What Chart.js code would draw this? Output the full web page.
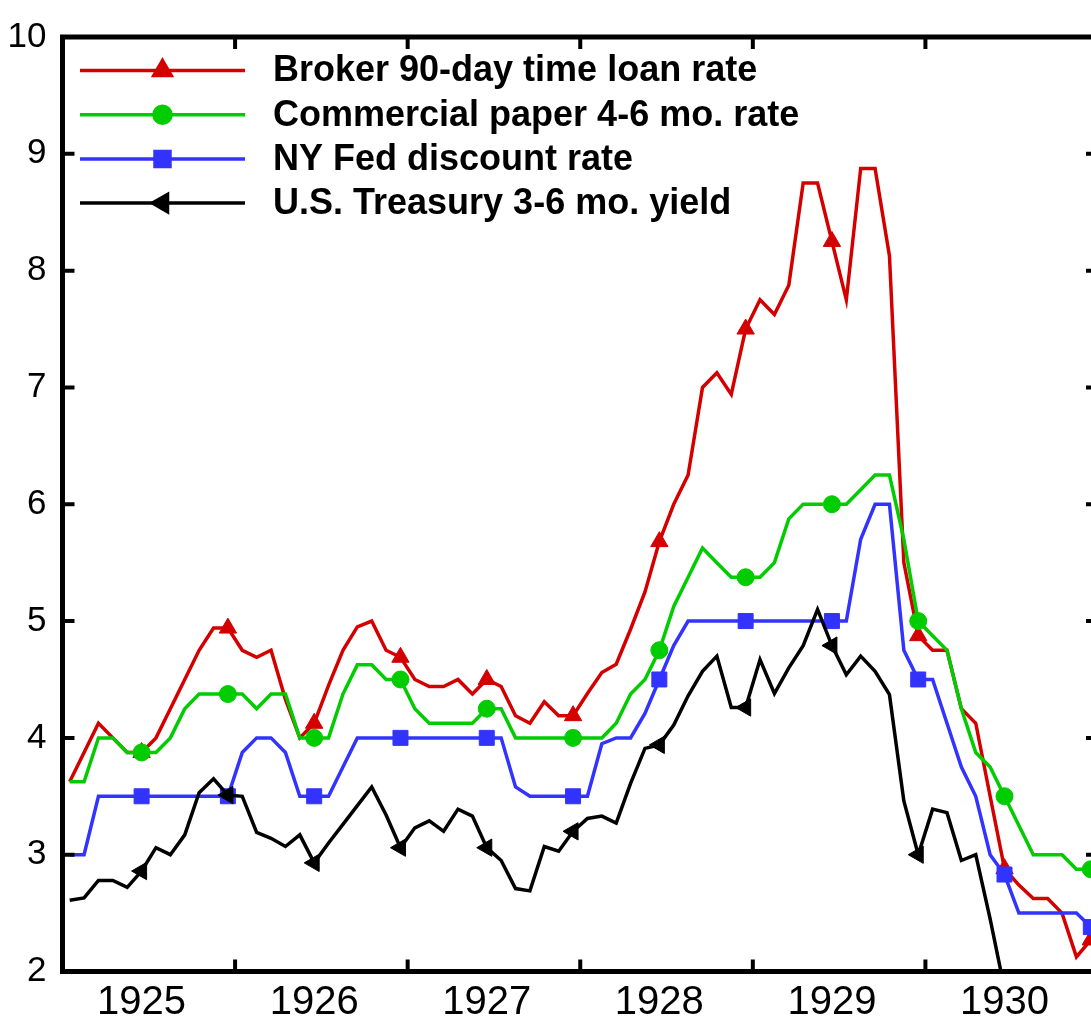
<!DOCTYPE html>
<html>
<head>
<meta charset="utf-8">
<script src="https://cdn.jsdelivr.net/npm/chart.js@4.4.1/dist/chart.umd.min.js"></script>
<style>
  html, body { margin: 0; padding: 0; background: #fff; overflow: hidden; }
  #wrap { width: 1091px; height: 1019px; overflow: hidden; }
  canvas { display: block; }
</style>
</head>
<body>
<div id="wrap"><canvas id="chart" width="1110" height="1019"></canvas></div>
<script>
// monthly data, Jan 1925 - Dec 1930
const years = [1925, 1926, 1927, 1928, 1929, 1930];
const monthNames = ["Jan", "Feb", "Mar", "Apr", "May", "Jun", "Jul", "Aug", "Sep", "Oct", "Nov", "Dec"];
const months = years.flatMap(y => monthNames.map(m => m + " " + y));

const yTicks = [2, 3, 4, 5, 6, 7, 8, 9, 10];

const seriesNames = [
  "Broker 90-day time loan rate",
  "Commercial paper 4-6 mo. rate",
  "NY Fed discount rate",
  "U.S. Treasury 3-6 mo. yield"
];

const brokerRate = [
  3.625, 3.875, 4.125, 4.0, 3.875, 3.875, 4.0, 4.25, 4.5, 4.75, 4.94, 4.94,
  4.75, 4.69, 4.75, 4.33, 4.0, 4.125, 4.45, 4.75, 4.95, 5.0, 4.75, 4.69,
  4.5, 4.44, 4.44, 4.5, 4.375, 4.5, 4.44, 4.19, 4.125, 4.31, 4.19, 4.19,
  4.38, 4.56, 4.63, 4.93, 5.25, 5.68, 6.0, 6.25, 7.0, 7.125, 6.94, 7.5,
  7.75, 7.625, 7.875, 8.75, 8.75, 8.25, 7.75, 8.875, 8.875, 8.125, 5.5, 4.875,
  4.75, 4.75, 4.25, 4.125, 3.5, 2.88, 2.74, 2.625, 2.625, 2.5, 2.125, 2.27
];

const paperRate = [
  3.625, 3.625, 4.0, 4.0, 3.875, 3.875, 3.875, 4.0, 4.25, 4.375, 4.375, 4.375,
  4.375, 4.25, 4.375, 4.375, 4.0, 4.0, 4.0, 4.375, 4.625, 4.625, 4.5, 4.5,
  4.25, 4.125, 4.125, 4.125, 4.125, 4.25, 4.25, 4.0, 4.0, 4.0, 4.0, 4.0,
  4.0, 4.0, 4.125, 4.375, 4.5, 4.75, 5.125, 5.375, 5.625, 5.5, 5.375, 5.375,
  5.375, 5.5, 5.875, 6.0, 6.0, 6.0, 6.0, 6.125, 6.25, 6.25, 5.7, 5.0,
  4.875, 4.75, 4.25, 3.875, 3.75, 3.5, 3.25, 3.0, 3.0, 3.0, 2.875, 2.875
];

const discountRate = [
  3.0, 3.0, 3.5, 3.5, 3.5, 3.5, 3.5, 3.5, 3.5, 3.5, 3.5, 3.5,
  3.875, 4.0, 4.0, 3.875, 3.5, 3.5, 3.5, 3.75, 4.0, 4.0, 4.0, 4.0,
  4.0, 4.0, 4.0, 4.0, 4.0, 4.0, 4.0, 3.58, 3.5, 3.5, 3.5, 3.5,
  3.5, 3.95, 4.0, 4.0, 4.21, 4.5, 4.79, 5.0, 5.0, 5.0, 5.0, 5.0,
  5.0, 5.0, 5.0, 5.0, 5.0, 5.0, 5.0, 5.7, 6.0, 6.0, 4.75, 4.5,
  4.5, 4.125, 3.75, 3.5, 3.0, 2.83, 2.5, 2.5, 2.5, 2.5, 2.5, 2.38
];

const treasuryYield = [
  2.61, 2.63, 2.78, 2.78, 2.72, 2.86, 3.06, 3.0, 3.17, 3.53, 3.65, 3.51,
  3.5, 3.19, 3.14, 3.07, 3.17, 2.93, 3.1, 3.26, 3.42, 3.58, 3.34, 3.06,
  3.23, 3.29, 3.2, 3.39, 3.33, 3.06, 2.95, 2.71, 2.69, 3.07, 3.03, 3.2,
  3.31, 3.33, 3.27, 3.61, 3.91, 3.94, 4.11, 4.36, 4.57, 4.7, 4.26, 4.26,
  4.67, 4.38, 4.6, 4.79, 5.1, 4.79, 4.54, 4.7, 4.57, 4.37, 3.46, 3.0,
  3.39, 3.36, 2.95, 3.0, 2.45, 1.85, 1.6, 1.5, 1.5, 1.45, 1.35, 1.25
];

const markerEvery = (r) => (ctx) => (ctx.dataIndex % 6 === 5 ? r : 0);

function series(label, data, color, style, radius, rotation, order) {
  return {
    label, data, order,
    borderColor: color,
    backgroundColor: color,
    borderWidth: 3.5,
    tension: 0,
    clip: 0,
    pointStyle: style,
    rotation: rotation,
    legendRadius: radius,
    pointRadius: markerEvery(radius),
    pointHoverRadius: 0,
    pointBackgroundColor: color,
    pointBorderColor: color,
    pointBorderWidth: 1
  };
}

// frame with inward tick marks on all four sides
const framePlugin = {
  id: "frame",
  afterDraw(chart) {
    const { ctx, chartArea: a, scales: { x, y } } = chart;
    const tick = 12;
    ctx.save();
    ctx.strokeStyle = "#000";
    ctx.lineWidth = 4;
    ctx.beginPath();
    yTicks.forEach(v => {
      const py = y.getPixelForValue(v);
      ctx.moveTo(a.left, py); ctx.lineTo(a.left + tick, py);
      ctx.moveTo(a.right - tick, py); ctx.lineTo(a.right, py);
    });
    for (let k = 1; k < years.length; k++) {
      const px = (x.getPixelForValue(12 * k - 1) + x.getPixelForValue(12 * k)) / 2;
      ctx.moveTo(px, a.top); ctx.lineTo(px, a.top + tick);
      ctx.moveTo(px, a.bottom); ctx.lineTo(px, a.bottom - tick);
    }
    ctx.stroke();
    ctx.lineWidth = 5;
    ctx.strokeRect(a.left, a.top, a.right - a.left, a.bottom - a.top);
    ctx.restore();
  }
};

// legend: line with marker in the middle, bold text to the right
const lineLegend = {
  id: "lineLegend",
  afterDraw(chart) {
    const { ctx } = chart;
    const x0 = 80, x1 = 245, tx = 273, top = 70.5, gap = 44.2;
    ctx.save();
    chart.data.datasets.forEach((ds, i) => {
      const yy = top + i * gap;
      ctx.strokeStyle = ds.borderColor;
      ctx.fillStyle = ds.borderColor;
      ctx.lineWidth = ds.borderWidth;
      ctx.beginPath();
      ctx.moveTo(x0, yy); ctx.lineTo(x1, yy);
      ctx.stroke();
      Chart.helpers.drawPoint(ctx, {
        pointStyle: ds.pointStyle,
        rotation: ds.rotation,
        radius: ds.legendRadius,
        borderWidth: 1
      }, (x0 + x1) / 2, yy);
      ctx.fillStyle = "#000";
      ctx.font = "bold 36px 'Liberation Sans', Arial, sans-serif";
      ctx.textBaseline = "middle";
      ctx.textAlign = "left";
      ctx.fillText(ds.label, tx, yy + 1);
    });
    ctx.restore();
  }
};

const datasets = [
  series(seriesNames[0], brokerRate, "#d40000", "triangle", 10, 0, 4),
  series(seriesNames[1], paperRate, "#00cc00", "circle", 8.5, 0, 3),
  series(seriesNames[2], discountRate, "#3333ff", "rect", 10.6, 0, 2),
  series(seriesNames[3], treasuryYield, "#000000", "triangle", 10, -90, 1)
];

new Chart(document.getElementById("chart"), {
  type: "line",
  data: { labels: months, datasets },
  options: {
    responsive: false,
    animation: false,
    events: [],
    layout: { padding: { top: 26, right: 12, left: 0, bottom: 0 } },
    plugins: { legend: { display: false }, tooltip: { enabled: false } },
    scales: {
      x: {
        type: "category",
        offset: true,
        grid: { display: false, drawTicks: false },
        border: { display: false },
        afterFit(scale) { scale.height = 47.5; },
        ticks: {
          autoSkip: false,
          maxRotation: 0,
          minRotation: 0,
          padding: 7,
          color: "#000",
          font: { family: "'Liberation Sans', Arial, sans-serif", size: 40 },
          callback: (v, i) => (i % 12 === 5 ? String(years[Math.floor(i / 12)]) : "")
        }
      },
      y: {
        type: "linear",
        min: 2,
        max: 10,
        grid: { display: false, drawTicks: false },
        border: { display: false },
        afterFit(scale) { scale.width = 62.5; },
        afterBuildTicks(scale) { scale.ticks = yTicks.map(v => ({ value: v })); },
        ticks: {
          padding: 16,
          color: "#000",
          font: { family: "'Liberation Sans', Arial, sans-serif", size: 35 }
        }
      }
    }
  },
  plugins: [framePlugin, lineLegend]
});
</script>
</body>
</html>
